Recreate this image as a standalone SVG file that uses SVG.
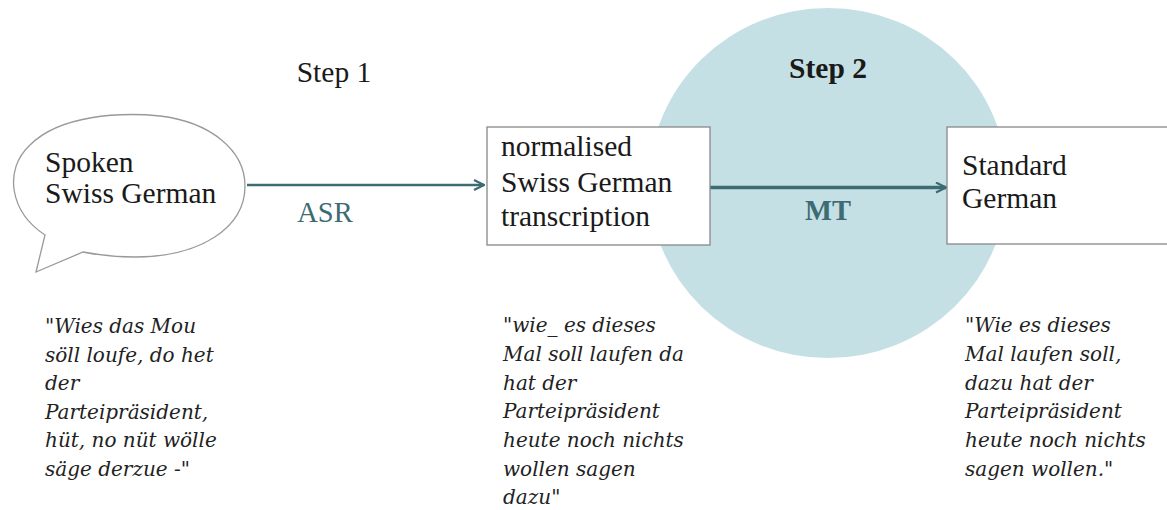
<svg xmlns="http://www.w3.org/2000/svg" width="1167" height="510" viewBox="0 0 1167 510">
<defs>
<style>
.lbl{font-family:'Liberation Serif','DejaVu Serif',serif;font-size:29.5px;fill:#1a1a1a}
.conn{font-family:'Liberation Serif','DejaVu Serif',serif;font-size:28.5px;fill:#3d6b73}
.q{font-family:'DejaVu Serif','Liberation Serif',serif;font-style:italic;font-size:20px;fill:#222}
.box{fill:#fff;stroke:#888;stroke-width:1.3}
</style>
<marker id="ah" viewBox="0 0 12 12" refX="11" refY="6" markerWidth="12" markerHeight="12" markerUnits="userSpaceOnUse" orient="auto">
<path d="M1,1 L11,6 L1,11" fill="none" stroke="#3d6b73" stroke-width="2.2"/>
</marker>
</defs>
<rect width="1167" height="510" fill="#fff"/>
<g id="step2-circle">
<ellipse cx="828" cy="183" rx="179" ry="175" fill="#c5e0e4"/>
<text x="828" y="78" class="lbl" font-weight="bold" text-anchor="middle">Step 2</text>
</g>
<g id="step1-label">
<text x="334" y="82" class="lbl" text-anchor="middle">Step 1</text>
</g>
<g id="connectors">
<line x1="247" y1="185" x2="484" y2="185" stroke="#3d6b73" stroke-width="2.4" marker-end="url(#ah)"/>
<text x="325" y="222" class="conn" text-anchor="middle">ASR</text>
<line x1="710" y1="187.5" x2="946" y2="187.5" stroke="#3d6b73" stroke-width="3.4" marker-end="url(#ah)"/>
<text x="828" y="220" class="conn" font-weight="bold" text-anchor="middle">MT</text>
</g>
<g id="spoken">
<path d="M45,235 C10,212 3,170 30,145 C60,115 120,112 160,116 C210,122 245,150 245,186 C245,228 200,257 135,257 C115,257 98,255 83,252 L36,272 Z" fill="#fff" stroke="#999" stroke-width="1.3"/>
<text x="45" y="172" class="lbl">Spoken</text>
<text x="45" y="203" class="lbl">Swiss German</text>
</g>
<g id="transcription">
<rect x="487" y="127" width="223" height="118" class="box"/>
<text x="501" y="156" class="lbl">normalised</text>
<text x="501" y="192" class="lbl">Swiss German</text>
<text x="501" y="226" class="lbl">transcription</text>
</g>
<g id="standard">
<rect x="947" y="127" width="225" height="117" class="box"/>
<text x="962" y="175" class="lbl">Standard</text>
<text x="962" y="208" class="lbl">German</text>
</g>
<g id="quote-swiss">
<text x="45" y="333" class="q">"Wies das Mou</text>
<text x="45" y="362" class="q">söll loufe, do het</text>
<text x="45" y="390" class="q">der</text>
<text x="45" y="419" class="q">Parteipräsident,</text>
<text x="45" y="447" class="q">hüt, no nüt wölle</text>
<text x="45" y="476" class="q">säge derzue -"</text>
</g>
<g id="quote-norm">
<text x="503" y="332" class="q">"wie_ es dieses</text>
<text x="503" y="361" class="q">Mal soll laufen da</text>
<text x="503" y="390" class="q">hat der</text>
<text x="503" y="418" class="q">Parteipräsident</text>
<text x="503" y="447" class="q">heute noch nichts</text>
<text x="503" y="476" class="q">wollen sagen</text>
<text x="503" y="504" class="q">dazu"</text>
</g>
<g id="quote-std">
<text x="965" y="332" class="q">"Wie es dieses</text>
<text x="965" y="361" class="q">Mal laufen soll,</text>
<text x="965" y="390" class="q">dazu hat der</text>
<text x="965" y="418" class="q">Parteipräsident</text>
<text x="965" y="447" class="q">heute noch nichts</text>
<text x="965" y="476" class="q">sagen wollen."</text>
</g>
</svg>
